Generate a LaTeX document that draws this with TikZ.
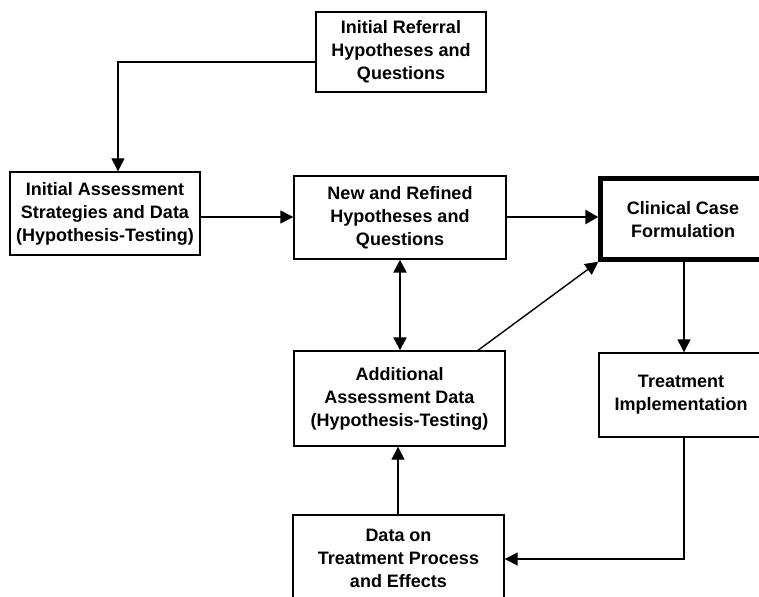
\documentclass[tikz,border=0pt]{standalone}
\usepackage{fontspec}
\setmainfont{Liberation Sans}
\usetikzlibrary{arrows.meta}
\begin{document}
\begin{tikzpicture}[x=1pt,y=-1pt,
  box/.style={draw, line width=1.4pt, rectangle, align=center, inner sep=0pt,
    font=\fontsize{18}{23}\selectfont\bfseries},
  tip/.tip={Triangle[length=13pt,width=13pt]},
  arr/.style={line width=1.4pt, -tip},
  thickarr/.style={line width=2.8pt, -{Triangle[length=13pt,width=14pt]}}]
\clip (0,0) rectangle (759,596);
\fill[white] (0,0) rectangle (759,596);
\node[box, minimum width=170, minimum height=80] (ref) at (401,52)
  {Initial Referral\\Hypotheses and\\Questions};
\node[box, minimum width=190, minimum height=83] (ia) at (105,213.5)
  {Initial Assessment\\Strategies and Data\\(Hypothesis-Testing)};
\node[box, minimum width=212, minimum height=83] (new) at (400,217.5)
  {New and Refined\\Hypotheses and\\Questions};
\node[box, line width=4.5pt, minimum width=165, minimum height=81, text depth=0pt] (cl) at (683,219)
  {Clinical Case\\Formulation};
\node[box, minimum width=164, minimum height=84] (tr) at (681,395)
  {Treatment\\Implementation};
\node[box, minimum width=211, minimum height=95] (add) at (399.5,398.5)
  {Additional\\Assessment Data\\(Hypothesis-Testing)};
\node[box, minimum width=211, minimum height=86] (dat) at (398.5,558)
  {Data on\\Treatment Process\\and Effects};
\coordinate (r1) at (ref.west |- 0,62);
\coordinate (iat) at (118,0);
\draw[arr] (r1) -| (iat |- ia.north);
\draw[arr] (ia.east |- 0,217) -- (new.west |- 0,217);
\draw[thickarr] (new.east |- 0,217) -- (cl.west |- 0,217);
\coordinate (cx) at (684,0);
\draw[arr] (cx |- cl.south) -- (cx |- tr.north);
\coordinate (nx) at (400,0);
\draw[line width=2.4pt, tip-tip] (nx |- new.south) -- (nx |- add.north);
\coordinate (dg) at (478,0);
\draw[arr] (dg |- add.north) -- (cl.south west);
\coordinate (ty) at (0,559);
\draw[arr] (cx |- tr.south) |- (dat.east |- ty);
\coordinate (dx) at (398,0);
\draw[arr] (dx |- dat.north) -- (dx |- add.south);
\end{tikzpicture}
\end{document}
